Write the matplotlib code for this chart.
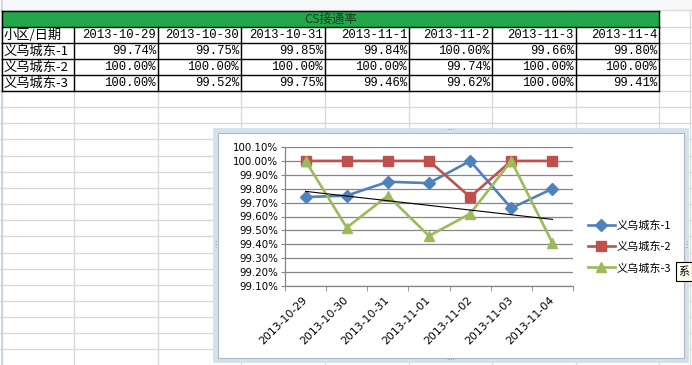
import numpy as np
import matplotlib
matplotlib.use("Agg")
import matplotlib.pyplot as plt
from matplotlib.patches import Rectangle
from matplotlib.lines import Line2D

# ---------------- data ----------------
title = "CS接通率"
corner = "小区/日期"
table_dates = ["2013-10-29", "2013-10-30", "2013-10-31", "2013-11-1",
               "2013-11-2", "2013-11-3", "2013-11-4"]
axis_dates = ["2013-10-29", "2013-10-30", "2013-10-31", "2013-11-01",
              "2013-11-02", "2013-11-03", "2013-11-04"]
series_names = ["义乌城东-1", "义乌城东-2", "义乌城东-3"]
s1 = [99.74, 99.75, 99.85, 99.84, 100.00, 99.66, 99.80]
s2 = [100.00, 100.00, 100.00, 100.00, 99.74, 100.00, 100.00]
s3 = [100.00, 99.52, 99.75, 99.46, 99.62, 100.00, 99.41]
series = [s1, s2, s3]
yticks = [99.10, 99.20, 99.30, 99.40, 99.50, 99.60, 99.70, 99.80, 99.90, 100.00, 100.10]

colors = ["#4F81BD", "#C0504D", "#9BBB59"]
markers = ["D", "s", "^"]
msizes = [6, 7.5, 7.5]

W, H = 692, 365
fig = plt.figure(figsize=(W / 100, H / 100), dpi=100)
bg = fig.add_axes([0, 0, 1, 1])
bg.set_xlim(0, W)
bg.set_ylim(H, 0)
bg.axis("off")

cjk = ["Noto Sans CJK SC", "DejaVu Sans"]
mono = ["Liberation Mono", "Noto Sans CJK SC"]

# ---------- spreadsheet grid ----------
col_x = [2, 74, 158, 241, 325, 409, 492, 576, 659]
grid_c = "#dadada"
for x in col_x + [690]:
    bg.plot([x, x], [10, H], color=grid_c, lw=1, zorder=1)
y = 91
while y < H:
    bg.plot([0, W], [y, y], color=grid_c, lw=1, zorder=1)
    y += 16.15
for yy in [27, 43, 59, 75]:
    bg.plot([659, W], [yy, yy], color=grid_c, lw=1, zorder=1)
bg.plot([0, W], [10, 10], color=grid_c, lw=1, zorder=1)
bg.add_patch(Rectangle((0, 0), W, 10, facecolor="#f7f8fa", edgecolor="none", zorder=0.5))
bg.plot([1.5, 1.5], [0, H], color="#c4d2e0", lw=1.2, zorder=1.5)

# ---------- table ----------
row_y = [27, 43, 59, 75, 91]
bg.add_patch(Rectangle((2, 11), 657, 16, facecolor="#22A84B", edgecolor="none", zorder=2))
bg.text((2 + 659) / 2, 19, title, ha="center", va="center", fontsize=9,
        family=cjk, color="#203a20", zorder=3)
for yy in [11] + row_y:
    bg.plot([2, 659], [yy, yy], color="black", lw=1, zorder=3)
for x in col_x:
    bg.plot([x, x], [27, 91], color="black", lw=1, zorder=3)
bg.plot([2, 2], [11, 27], color="black", lw=1, zorder=3)
bg.plot([659, 659], [11, 27], color="black", lw=1, zorder=3)

# header row
bg.text(4, 35.5, corner, ha="left", va="center", fontsize=9.5, family=cjk, zorder=4)
for i, d in enumerate(table_dates):
    bg.text(col_x[i + 2] - 2, 35.5, d, ha="right", va="center", fontsize=8.8,
            family=mono, zorder=4)
# body
for r, (name, vals) in enumerate(zip(series_names, series)):
    yc = row_y[r + 1] + 8.5
    bg.text(4, yc, name, ha="left", va="center", fontsize=9.5, family=cjk, zorder=4)
    for i, v in enumerate(vals):
        bg.text(col_x[i + 2] - 2, yc, f"{v:.2f}%", ha="right", va="center",
                fontsize=8.8, family=mono, zorder=4)

# ---------- chart frame ----------
bg.add_patch(Rectangle((215, 130), 471, 230, facecolor="white",
                       edgecolor="#d3e2ea", lw=3.5, zorder=5))
bg.add_patch(Rectangle((217.5, 132.5), 466, 225, facecolor="none",
                       edgecolor="#a9bac6", lw=0.8, zorder=5))
for (hx, hy) in [(451, 130), (451, 360)]:
    bg.text(hx, hy, "····", ha="center", va="center", fontsize=5, color="#7a8a9a", zorder=6)
for (hx, hy) in [(215, 244), (686, 244)]:
    bg.text(hx, hy, "⋮", ha="center", va="center", fontsize=6, color="#7a8a9a", zorder=6)

# ---------- chart axes ----------
ax = fig.add_axes([285 / W, (H - 286) / H, (573 - 285) / W, (286 - 147) / H], zorder=7)
ax.patch.set_alpha(0)
x = np.arange(len(axis_dates))
for s, c, m, ms in zip(series, colors, markers, msizes):
    ax.plot(x, s, color=c, lw=1.9, marker=m, ms=ms, mfc=c, mec=c, zorder=3)
# linear trendline of series 3
k, b = np.polyfit(x, s3, 1)
ax.plot([x[0], x[-1]], [k * x[0] + b, k * x[-1] + b], color="black", lw=0.8, zorder=4)

ax.set_ylim(yticks[0], yticks[-1])
ax.set_yticks(yticks)
ax.set_yticklabels([f"{t:.2f}%" for t in yticks], fontsize=7.4)
ax.yaxis.grid(True, color="#868686", lw=0.9)
ax.set_axisbelow(True)
ax.set_xlim(-0.5, len(x) - 0.5)
ax.set_xticks(x)
ax.set_xticklabels(axis_dates, rotation=45, ha="right", va="center",
                   rotation_mode="anchor", fontsize=7.8)
ax.set_xticks(np.arange(-0.5, len(x)), minor=True)
ax.tick_params(axis="x", which="major", length=0, pad=9)
ax.tick_params(axis="x", which="minor", length=3.5, color="#868686", direction="out")
ax.tick_params(axis="y", length=3, color="#868686", pad=2)
for sp in ["top", "right"]:
    ax.spines[sp].set_visible(False)
for sp in ["left", "bottom"]:
    ax.spines[sp].set_color("#868686")
    ax.spines[sp].set_linewidth(0.9)

handles = [Line2D([], [], color=c, lw=1.9, marker=m, ms=ms, mfc=c, mec=c)
           for c, m, ms in zip(colors, markers, msizes)]
leg = fig.legend(handles, series_names, loc="center left",
                 bbox_to_anchor=(588 / W, (H - 247) / H), frameon=False,
                 prop={"family": cjk, "size": 8}, handlelength=2.4,
                 handletextpad=0.15, labelspacing=0.95, borderpad=0, borderaxespad=0)
leg.set_zorder(8)

# small tooltip box
bg.add_patch(Rectangle((676, 262), 16, 19, facecolor="#fffff0", edgecolor="black",
                       lw=0.8, zorder=9))
bg.text(684, 271.5, "系", ha="center", va="center", fontsize=8, family=cjk, zorder=10)

fig.savefig("out.png", dpi=100)
